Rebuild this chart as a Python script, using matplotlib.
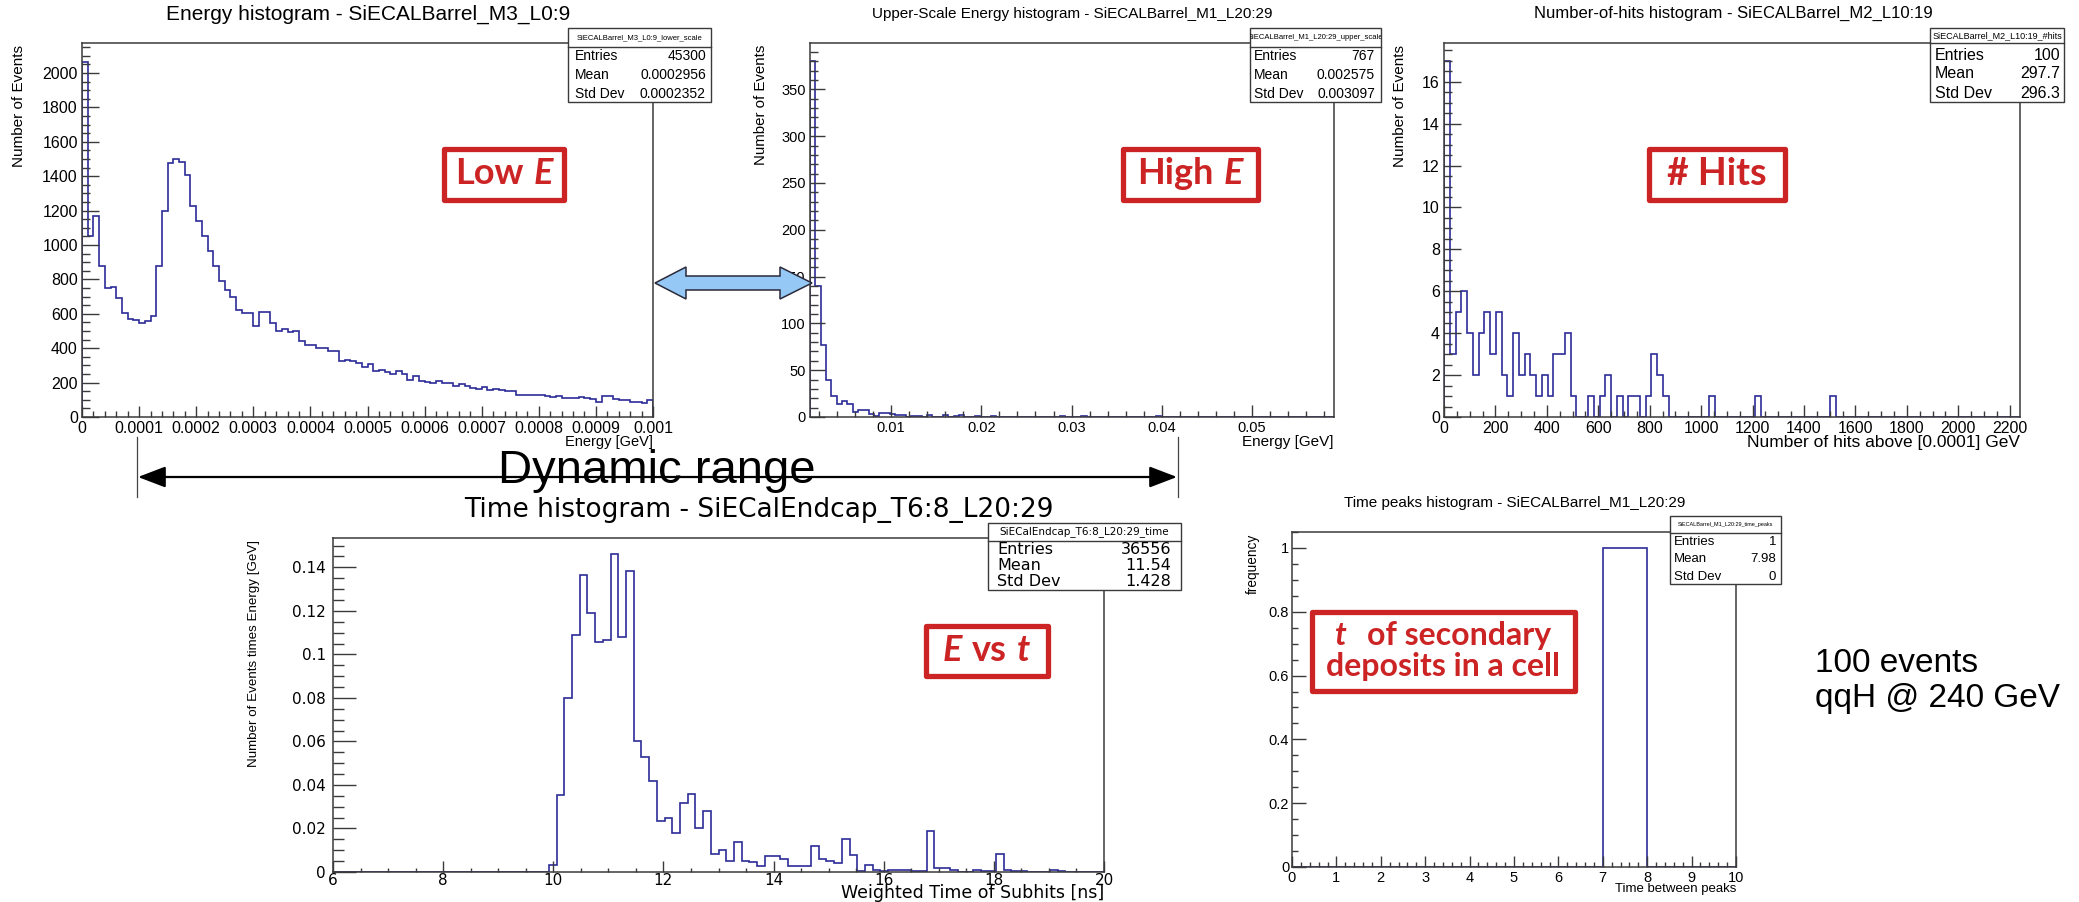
import numpy as np
import matplotlib
matplotlib.use("Agg")
import matplotlib.pyplot as plt
from matplotlib.patches import Rectangle, Polygon, FancyArrowPatch
from matplotlib.lines import Line2D
from matplotlib.ticker import MultipleLocator, FuncFormatter
from matplotlib.offsetbox import TextArea, HPacker, VPacker, AnnotationBbox
from matplotlib import font_manager

# ---------------- data ----------------
low_e_range = (0.0, 0.001)
low_e_counts = [2065, 1050, 1167, 878, 752, 756, 690, 605, 572, 566,
                548, 556, 585, 878, 1198, 1477, 1498, 1484, 1405, 1225,
                1140, 1054, 965, 878, 789, 736, 698, 620, 607, 607,
                531, 610, 610, 546, 498, 510, 492, 498, 440, 420,
                416, 403, 403, 382, 384, 325, 333, 325, 312, 290,
                310, 270, 275, 262, 250, 270, 252, 215, 240, 210,
                205, 195, 210, 200, 200, 180, 190, 182, 170, 160,
                175, 155, 162, 155, 150, 152, 125, 130, 128, 125,
                125, 122, 115, 120, 110, 112, 110, 115, 112, 105,
                87, 122, 120, 105, 100, 97, 90, 88, 82, 100]
low_e_stats = ["45300", "0.0002956", "0.0002352"]

high_e_range = (0.001, 0.06)
high_e_counts = [380, 140, 77, 40, 22, 14, 17, 14, 5, 8,
                 7, 3, 1, 4, 4, 3, 2, 2, 0, 1,
                 1, 0, 2, 0, 0, 2, 0, 1, 2, 0,
                 0, 1, 0, 0, 1, 0, 0, 0, 0, 0,
                 0, 0, 0, 0, 0, 0, 0, 1, 0, 0,
                 0, 1, 0, 0, 0, 0, 0, 0, 0, 0,
                 0, 0, 0, 0, 0, 1, 0, 0, 0, 0,
                 0, 0, 0, 0, 0, 0, 0, 0, 0, 0,
                 0, 0, 0, 0, 0, 0, 0, 0, 0, 0,
                 0, 0, 0, 0, 0, 0, 0, 0, 0, 0]
high_e_stats = ["767", "0.002575", "0.003097"]

nhits_range = (0, 2240)
nhits_counts = [17, 3, 5, 6, 4, 2, 4, 5, 3, 5,
                2, 1, 4, 2, 3, 2, 1, 2, 1, 3,
                3, 4, 1, 0, 0, 1, 0, 1, 2, 0,
                1, 0, 1, 1, 0, 1, 3, 2, 1, 0,
                0, 0, 0, 0, 0, 0, 1, 0, 0, 0,
                0, 0, 0, 0, 1, 0, 0, 0, 0, 0,
                0, 0, 0, 0, 0, 0, 0, 1, 0, 0,
                0, 0, 0, 0, 0, 0, 0, 0, 0, 0,
                0, 0, 0, 0, 0, 0, 0, 0, 0, 0,
                0, 0, 0, 0, 0, 0, 0, 0, 0, 0]
nhits_stats = ["100", "297.7", "296.3"]

time_range = (6, 20)
time_weights = [0] * 28 + [
    0.003, 0.0356, 0.0798, 0.1088, 0.1366, 0.119, 0.1058, 0.1067, 0.1463, 0.1082,
    0.1382, 0.0603, 0.0527, 0.0418, 0.0233, 0.025, 0.018, 0.0318, 0.0358, 0.0201,
    0.0281, 0.0084, 0.0103, 0.0051, 0.0138, 0.0051, 0.0048, 0.0029, 0.0074, 0.0074,
    0.0061, 0.0026, 0.0029, 0.0029, 0.012, 0.0061, 0.0051, 0.0041, 0.015, 0.0077,
    0.0005, 0.0032, 0.001, 0.0005, 0.0008, 0.001, 0.001, 0.0005, 0.0005, 0.0189,
    0.0018, 0.0018, 0.001, 0.0, 0.0, 0.001, 0.0003, 0.0003, 0.0081, 0.001,
    0.0006, 0.0006, 0.0, 0.0, 0.0, 0.0008, 0.0003] + [0] * 5
time_stats = ["36556", "11.54", "1.428"]

peaks_range = (0, 10)
peaks_counts = [0, 0, 0, 0, 0, 0, 0, 1, 0, 0]
peaks_stats = ["1", "7.98", "0"]

stat_names = ["Entries", "Mean", "Std Dev"]

# ---------------- figure helpers ----------------
W, H = 2079, 902
fig = plt.figure(figsize=(W / 100, H / 100), dpi=100, facecolor="white")

available = {f.name for f in font_manager.fontManager.ttflist}
ROOT_FONT = "Liberation Sans"
WIDE_FONT = "DejaVu Sans"
NARROW_FONT = "Liberation Sans Narrow" if "Liberation Sans Narrow" in available else "Liberation Sans"
BOX_FONT = "Lato" if "Lato" in available else "DejaVu Sans"

LINE = "#2c2c98"
FRAME = "#3a3a3a"
RED = "#cc2424"


def fx(x):
    return x / W


def fy(y):
    return 1 - y / H


def pt(px):
    return px * 72 / 100


def add_axes(x0, y0, x1, y1):
    return fig.add_axes([fx(x0), fy(y1), (x1 - x0) / W, (y1 - y0) / H])


def style(ax, xmaj, xmin, ymaj, ymin, fs, family, ticklen, pads):
    ax.xaxis.set_major_locator(MultipleLocator(xmaj))
    ax.xaxis.set_minor_locator(MultipleLocator(xmin))
    ax.yaxis.set_major_locator(MultipleLocator(ymaj))
    ax.yaxis.set_minor_locator(MultipleLocator(ymin))
    fmt = FuncFormatter(lambda v, p: "0" if abs(v) < 1e-12 else f"{v:g}")
    ax.xaxis.set_major_formatter(fmt)
    ax.yaxis.set_major_formatter(fmt)
    xl, xs, yl, ys = ticklen
    ax.tick_params(axis="x", which="major", direction="in", length=pt(xl), width=1.0,
                   color=FRAME, labelsize=fs, pad=pads[0], labelfontfamily=family)
    ax.tick_params(axis="x", which="minor", direction="in", length=pt(xs), width=1.0, color=FRAME)
    ax.tick_params(axis="y", which="major", direction="in", length=pt(yl), width=1.0,
                   color=FRAME, labelsize=fs, pad=pads[1], labelfontfamily=family)
    ax.tick_params(axis="y", which="minor", direction="in", length=pt(ys), width=1.0, color=FRAME)
    for s in ax.spines.values():
        s.set_color(FRAME)
        s.set_linewidth(1.1)
    ax.set_facecolor("white")


def labels(ax, rect, xlabel, xl_y, xl_fs, xl_family, ylabel, yl_x, yl_fs, yl_family,
           xl_va="center"):
    x0, y0, x1, y1 = rect
    ax.set_xlabel(xlabel, loc="right", fontsize=xl_fs, family=xl_family)
    ax.xaxis.set_label_coords(1.0, (y1 - xl_y) / (y1 - y0))
    ax.xaxis.label.set_va(xl_va)
    ax.set_ylabel(ylabel, loc="top", fontsize=yl_fs, family=yl_family)
    ax.yaxis.set_label_coords((yl_x - x0) / (x1 - x0), 0.995)
    ax.yaxis.label.set_va("center")


def title(text, cx, cy, fs, family):
    fig.text(fx(cx), fy(cy), text, ha="center", va="center", fontsize=fs, family=family)


def stats_box(box, ysep, header, header_fs, values, lx, rx, row_ys, fs, family):
    x0, y0, x1, y1 = box
    rect = Rectangle((fx(x0), fy(y1)), (x1 - x0) / W, (y1 - y0) / H,
                     transform=fig.transFigure, facecolor="white", edgecolor=FRAME,
                     lw=1.0, zorder=10)
    fig.add_artist(rect)
    fig.add_artist(Line2D([fx(x0), fx(x1)], [fy(ysep)] * 2, transform=fig.transFigure,
                          color=FRAME, lw=1.0, zorder=11))
    t = fig.text(fx((x0 + x1) / 2), fy((y0 + ysep) / 2), header, ha="center", va="center",
                 fontsize=header_fs, family=family, zorder=11)
    t.set_clip_path(rect)
    for name, val, yy in zip(stat_names, values, row_ys):
        fig.text(fx(lx), fy(yy), name, ha="left", va="center", fontsize=fs,
                 family=family, zorder=11)
        fig.text(fx(rx), fy(yy), val, ha="right", va="center", fontsize=fs,
                 family=family, zorder=11)


def red_box(box, lines, fs, sep, vsep=2):
    x0, y0, x1, y1 = box
    inset = 2.5
    fig.add_artist(Rectangle((fx(x0 + inset), fy(y1 - inset)), (x1 - x0 - 2 * inset) / W,
                             (y1 - y0 - 2 * inset) / H, transform=fig.transFigure,
                             facecolor="white", edgecolor=RED, lw=3.8,
                             joinstyle="round", zorder=12))
    rows = []
    for pieces in lines:
        parts = [TextArea(s, textprops=dict(color=RED, fontsize=fs, fontweight="bold",
                                            fontstyle="italic" if it else "normal",
                                            family=BOX_FONT))
                 for s, it in pieces]
        rows.append(HPacker(children=parts, sep=sep, pad=0, align="baseline"))
    pack = VPacker(children=rows, sep=vsep, pad=0, align="center")
    ab = AnnotationBbox(pack, (fx((x0 + x1) / 2), fy((y0 + y1) / 2)),
                        xycoords="figure fraction", frameon=False,
                        box_alignment=(0.5, 0.5), zorder=13)
    fig.add_artist(ab)


def draw_hist(ax, counts, rng):
    edges = np.linspace(rng[0], rng[1], len(counts) + 1)
    ax.stairs(counts, edges, color=LINE, lw=1.2, baseline=0)


# ---------------- top-left: low energy ----------------
r1 = (82, 43, 653, 417)
ax1 = add_axes(*r1)
draw_hist(ax1, low_e_counts, low_e_range)
ax1.set_xlim(*low_e_range)
ax1.set_ylim(0, 2174)
style(ax1, 0.0001, 0.00002, 200, 50, 11.5, ROOT_FONT, (11, 6, 17, 8), (3, 3))
labels(ax1, r1, "Energy [GeV]", 442, 10.5, ROOT_FONT, "Number of Events", 19, 11, ROOT_FONT)
title("Energy histogram - SiECALBarrel_M3_L0:9", 368, 14, 15, ROOT_FONT)
stats_box((568, 28, 711, 102), 47, "SiECALBarrel_M3_L0:9_lower_scale", 5.5, low_e_stats,
          575, 706, (56, 75, 94), 10, ROOT_FONT)

# ---------------- top-middle: upper-scale energy ----------------
r2 = (810, 43, 1334, 417)
ax2 = add_axes(*r2)
draw_hist(ax2, high_e_counts, high_e_range)
ax2.set_xlim(0.001, 0.0591)
ax2.set_ylim(0, 399.5)
style(ax2, 0.01, 0.002, 50, 10, 10.5, ROOT_FONT, (12, 6, 15, 8), (3, 3))
labels(ax2, r2, "Energy [GeV]", 442, 11, ROOT_FONT, "Number of Events", 761, 10.8, ROOT_FONT)
title("Upper-Scale Energy histogram - SiECALBarrel_M1_L20:29", 1072, 14, 11, ROOT_FONT)
stats_box((1250, 28, 1381, 102), 47, "SiECALBarrel_M1_L20:29_upper_scale", 5.5, high_e_stats,
          1254, 1375, (56, 75, 94), 10, ROOT_FONT)

# ---------------- top-right: number of hits ----------------
r3 = (1444, 43, 2020, 417)
ax3 = add_axes(*r3)
draw_hist(ax3, nhits_counts, nhits_range)
ax3.set_xlim(*nhits_range)
ax3.set_ylim(0, 17.85)
style(ax3, 200, 50, 2, 0.5, 11.5, ROOT_FONT, (12, 6, 17, 8), (3, 3))
labels(ax3, r3, "Number of hits above [0.0001] GeV", 442, 12.5, ROOT_FONT,
       "Number of Events", 1400, 11, ROOT_FONT)
title("Number-of-hits histogram - SiECALBarrel_M2_L10:19", 1733, 13, 12, ROOT_FONT)
stats_box((1930, 28, 2064, 102), 43, "SiECALBarrel_M2_L10:19_#hits", 6.5, nhits_stats,
          1935, 2060, (56, 74, 93), 11.5, ROOT_FONT)

# ---------------- bottom-left: time ----------------
r4 = (333, 538, 1104, 872)
ax4 = add_axes(*r4)
draw_hist(ax4, time_weights, time_range)
ax4.set_xlim(*time_range)
ax4.set_ylim(0, 0.1535)
style(ax4, 2, 0.5, 0.02, 0.005, 11, WIDE_FONT, (11, 4, 23, 11), (0.5, 5))
labels(ax4, r4, "Weighted Time of Subhits [ns]", 898, 12.5, WIDE_FONT,
       "Number of Events times Energy [GeV]", 254, 9.6, ROOT_FONT, xl_va="baseline")
title("Time histogram - SiECalEndcap_T6:8_L20:29", 759, 510, 19, WIDE_FONT)
stats_box((988, 523, 1181, 590), 541, "SiECalEndcap_T6:8_L20:29_time", 7.5, time_stats,
          997, 1171, (549, 566, 582), 11.5, WIDE_FONT)

# ---------------- bottom-right: time peaks ----------------
r5 = (1292, 532, 1736, 867)
ax5 = add_axes(*r5)
draw_hist(ax5, peaks_counts, peaks_range)
ax5.set_xlim(*peaks_range)
ax5.set_ylim(0, 1.05)
style(ax5, 1, 0.2, 0.2, 0.05, 10.5, NARROW_FONT, (11, 5, 13.5, 6), (3, 2))
labels(ax5, r5, "Time between peaks", 889, 9.5, NARROW_FONT, "frequency", 1253, 9.8, ROOT_FONT)
title("Time peaks histogram - SiECALBarrel_M1_L20:29", 1515, 503, 11, NARROW_FONT)
stats_box((1670, 516, 1781, 584), 533, "SiECALBarrel_M1_L20:29_time_peaks", 4, peaks_stats,
          1674, 1776, (542, 559, 577), 9.5, NARROW_FONT)

# ---------------- annotations ----------------
red_box((441, 146, 567, 202), [[("Low", False), ("E", True)]], 26, 7)
red_box((1120, 146, 1260, 202), [[("High", False), ("E", True)]], 26, 7)
red_box((1646, 146, 1787, 202), [[("# Hits", False)]], 27, 7)
red_box((923, 623, 1050, 678), [[("E", True), ("vs", False), ("t", True)]], 26, 7)
red_box((1309, 609, 1577, 693),
        [[("t", True), ("of secondary", False)], [("deposits in a cell", False)]], 23, 14, 1)

# blue double arrow linking the two energy scales
arrow_px = [(655, 283), (686, 267), (686, 276), (780, 276), (780, 267), (812, 283),
            (780, 299), (780, 290), (686, 290), (686, 299)]
fig.add_artist(Polygon([(fx(a), fy(b)) for a, b in arrow_px], closed=True,
                       transform=fig.transFigure, facecolor="#95c8f5",
                       edgecolor="#2a2a3a", lw=1.1, zorder=14))

# dynamic range marker
for xv in (137, 1178):
    fig.add_artist(Line2D([fx(xv), fx(xv)], [fy(437), fy(497)], transform=fig.transFigure,
                          color="#444444", lw=0.9, zorder=5))
fig.add_artist(FancyArrowPatch((fx(138), fy(477)), (fx(1177), fy(477)),
                               transform=fig.transFigure,
                               arrowstyle="<|-|>,head_length=1.7,head_width=0.65",
                               mutation_scale=10, color="black", lw=1.6, zorder=6,
                               shrinkA=0, shrinkB=0))
fig.text(fx(657), fy(483), "Dynamic range", ha="center", va="baseline",
         fontsize=42 if NARROW_FONT != "Liberation Sans" else 34, family=NARROW_FONT, zorder=7)

fig.text(fx(1815), fy(681), "100 events\nqqH @ 240 GeV", ha="left", va="center",
         fontsize=24, family=ROOT_FONT, linespacing=1.2)

fig.savefig("out.png", dpi=100, facecolor="white")
